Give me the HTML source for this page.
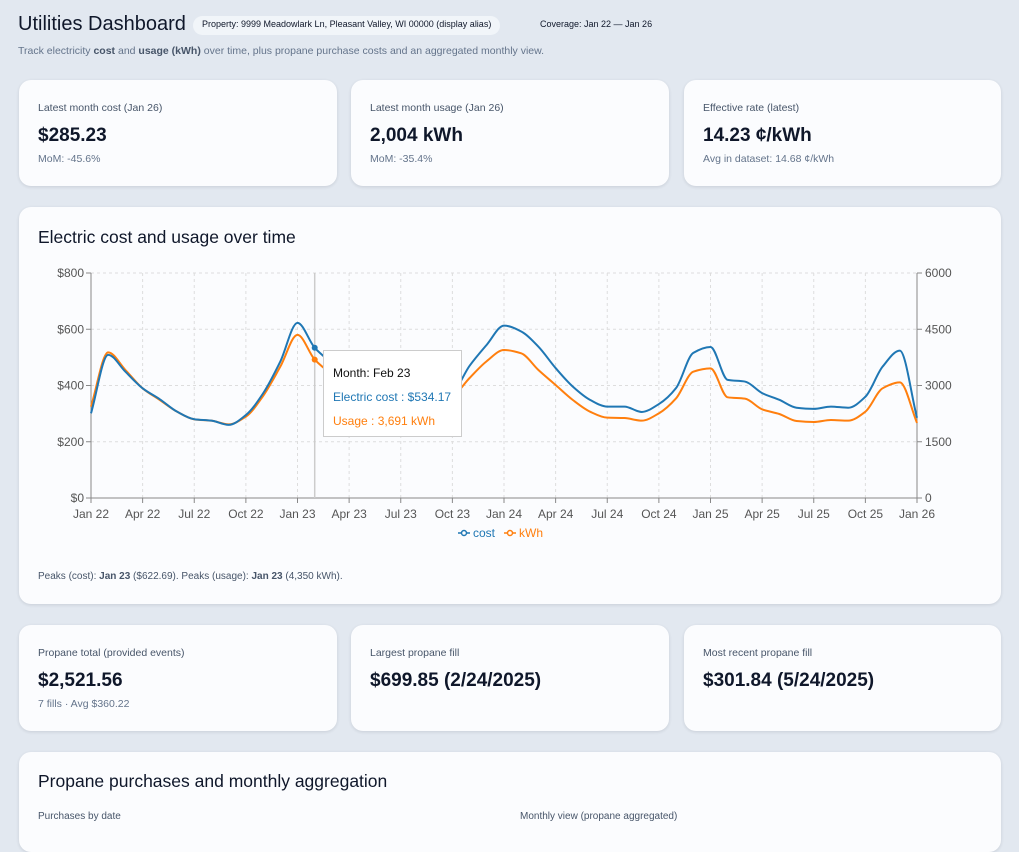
<!DOCTYPE html>
<html><head><meta charset="utf-8">
<style>
*{box-sizing:border-box;margin:0;padding:0}
body{width:1019px;height:829px;overflow:hidden;background:#e2e8f0;font-family:"Liberation Sans",sans-serif;color:#0f172a;position:relative}
.abs{position:absolute}
.card{position:absolute;background:#fbfcfe;border-radius:12px;box-shadow:0 1px 3px rgba(15,23,42,.12)}
.lbl{position:absolute;left:19px;top:22px;font-size:10.5px;color:#475569}
.val{position:absolute;left:19px;top:45px;font-size:19px;font-weight:bold;color:#0f172a}
.sub{position:absolute;left:19px;top:73px;font-size:10.5px;color:#64748b}
.tick{font-size:12px;fill:#555}
</style></head><body>
<div class="abs" style="left:18px;top:13px;font-size:20px;">Utilities Dashboard</div>
<div class="abs" style="left:193px;top:16px;height:19px;padding:3px 9px;background:#f1f5f9;border-radius:10px;font-size:9px;white-space:nowrap">Property: 9999 Meadowlark Ln, Pleasant Valley, WI 00000 (display alias)</div>
<div class="abs" style="left:540px;top:19px;font-size:9px;white-space:nowrap">Coverage: Jan 22 — Jan 26</div>
<div class="abs" style="left:18px;top:45px;font-size:10.5px;color:#64748b;white-space:nowrap">Track electricity <b style="color:#475569">cost</b> and <b style="color:#475569">usage (kWh)</b> over time, plus propane purchase costs and an aggregated monthly view.</div>

<div class="card" style="left:19px;top:80px;width:318px;height:106px"><div class="lbl">Latest month cost (Jan 26)</div><div class="val">$285.23</div><div class="sub">MoM: -45.6%</div></div>
<div class="card" style="left:351px;top:80px;width:318px;height:106px"><div class="lbl">Latest month usage (Jan 26)</div><div class="val">2,004 kWh</div><div class="sub">MoM: -35.4%</div></div>
<div class="card" style="left:684px;top:80px;width:317px;height:106px"><div class="lbl">Effective rate (latest)</div><div class="val">14.23 ¢/kWh</div><div class="sub">Avg in dataset: 14.68 ¢/kWh</div></div>

<div class="card" style="left:19px;top:207px;width:982px;height:397px">
 <div class="abs" style="left:19px;top:20px;font-size:17.5px;">Electric cost and usage over time</div>
 <div class="abs" style="left:19px;top:364px;font-size:10px;color:#475569;white-space:nowrap">Peaks (cost): <b>Jan 23</b> ($622.69). Peaks (usage): <b>Jan 23</b> (4,350 kWh).</div>
</div>
<svg class="abs" id="chart" style="left:0;top:0" width="1019" height="620"></svg>
<div class="abs" style="left:323px;top:350px;width:139px;height:87px;background:#fff;border:1px solid #ccc;padding:10px 9px;font-size:12px;line-height:24px;white-space:nowrap">
<div style="color:#111">Month: Feb 23</div><div style="color:#1f77b4">Electric cost : $534.17</div><div style="color:#ff7f0e">Usage : 3,691 kWh</div></div>

<div class="card" style="left:19px;top:625px;width:318px;height:106px"><div class="lbl">Propane total (provided events)</div><div class="val">$2,521.56</div><div class="sub">7 fills · Avg $360.22</div></div>
<div class="card" style="left:351px;top:625px;width:318px;height:106px"><div class="lbl">Largest propane fill</div><div class="val">$699.85 (2/24/2025)</div></div>
<div class="card" style="left:684px;top:625px;width:317px;height:106px"><div class="lbl">Most recent propane fill</div><div class="val">$301.84 (5/24/2025)</div></div>

<div class="card" style="left:19px;top:752px;width:982px;height:100px">
 <div class="abs" style="left:19px;top:19px;font-size:17.5px;">Propane purchases and monthly aggregation</div>
 <div class="abs" style="left:19px;top:59px;font-size:10px;color:#475569">Purchases by date</div>
 <div class="abs" style="left:501px;top:59px;font-size:10px;color:#475569">Monthly view (propane aggregated)</div>
</div>

<script>
const months=['Jan 22','Feb 22','Mar 22','Apr 22','May 22','Jun 22','Jul 22','Aug 22','Sep 22','Oct 22','Nov 22','Dec 22','Jan 23','Feb 23','Mar 23','Apr 23','May 23','Jun 23','Jul 23','Aug 23','Sep 23','Oct 23','Nov 23','Dec 23','Jan 24','Feb 24','Mar 24','Apr 24','May 24','Jun 24','Jul 24','Aug 24','Sep 24','Oct 24','Nov 24','Dec 24','Jan 25','Feb 25','Mar 25','Apr 25','May 25','Jun 25','Jul 25','Aug 25','Sep 25','Oct 25','Nov 25','Dec 25','Jan 26'];
const cost=[301,509,449,390,351,307,280,275,260,295,372,485,622.69,534.17,480,430,390,360,345,340,355,375,470,545,613,592,538,462,396,349,325,325,306,334,391,516,537,420,414,373,349,321,317,325,321,360,467,524,285.23];
const usage=[2436,3885,3413,2925,2613,2302,2098,2062,1965,2169,2720,3502,4350,3691,3300,3000,2750,2550,2450,2400,2500,2700,3200,3650,3947,3858,3413,3013,2613,2302,2142,2133,2062,2258,2658,3369,3458,2685,2649,2365,2240,2053,2027,2080,2062,2302,2925,3085,2004];
const costTicks=[0,200,400,600,800];
const usageTicks=[0,1500,3000,4500,6000];
const xTickIdx=[0,3,6,9,12,15,18,21,24,27,30,33,36,39,42,45,48];
const hoverIdx=13;

const svg=document.getElementById('chart');
const NS='http://www.w3.org/2000/svg';
const X0=91,X1=917,Y0=498,Y1=273;
const x=i=>X0+(X1-X0)*i/(months.length-1);
const yC=v=>Y0-(Y0-Y1)*v/800;
const yU=v=>Y0-(Y0-Y1)*v/6000;
function mk(t,a){const e=document.createElementNS(NS,t);for(const k in a)e.setAttribute(k,a[k]);svg.appendChild(e);return e;}
// grid
costTicks.forEach(v=>{if(v>0){const g=mk('line',{x1:X0,x2:X1,y1:yC(v),y2:yC(v),stroke:'#ddd','stroke-dasharray':'3 3'});

}});
xTickIdx.forEach(i=>{if(i>0&&i<48){const g=mk('line',{x1:x(i),x2:x(i),y1:Y1,y2:Y0,stroke:'#ddd','stroke-dasharray':'3 3'});

}});
// axes
const ax=mk('path',{d:`M${X0},${Y1}V${Y0}H${X1}V${Y1}`,stroke:'#888',fill:'none'});


costTicks.forEach(v=>{mk('line',{x1:X0-5,x2:X0,y1:yC(v),y2:yC(v),stroke:'#888'});
const t=mk('text',{x:X0-7,y:yC(v)+4,'text-anchor':'end',class:'tick'});t.textContent='$'+v;

});
usageTicks.forEach(v=>{mk('line',{x1:X1,x2:X1+5,y1:yU(v),y2:yU(v),stroke:'#888'});
const t=mk('text',{x:X1+8,y:yU(v)+4,class:'tick'});t.textContent=v;

});
xTickIdx.forEach(i=>{mk('line',{x1:x(i),x2:x(i),y1:Y0,y2:Y0+5,stroke:'#888'});
const t=mk('text',{x:x(i),y:Y0+20,'text-anchor':'middle',class:'tick'});t.textContent=months[i];

});
// cursor
const cur=mk('line',{x1:x(hoverIdx),x2:x(hoverIdx),y1:Y1,y2:Y0,stroke:'#ccc','stroke-width':1.5});


// monotone curve
function mono(pts){const n=pts.length,d=[],m=[];for(let i=0;i<n-1;i++)d.push((pts[i+1][1]-pts[i][1])/(pts[i+1][0]-pts[i][0]));
m[0]=d[0];m[n-1]=d[n-2];for(let i=1;i<n-1;i++)m[i]=d[i-1]*d[i]<=0?0:2/(1/d[i-1]+1/d[i]);
let s=`M${pts[0][0]},${pts[0][1]}`;for(let i=0;i<n-1;i++){const h=(pts[i+1][0]-pts[i][0])/3;
s+=`C${pts[i][0]+h},${pts[i][1]+m[i]*h} ${pts[i+1][0]-h},${pts[i+1][1]-m[i+1]*h} ${pts[i+1][0]},${pts[i+1][1]}`;}return s;}
const lu=mk('path',{d:mono(usage.map((v,i)=>[x(i),yU(v)])),stroke:'#ff7f0e','stroke-width':2,fill:'none'});


const lc=mk('path',{d:mono(cost.map((v,i)=>[x(i),yC(v)])),stroke:'#1f77b4','stroke-width':2,fill:'none'});


const d1=mk('circle',{cx:x(hoverIdx),cy:yC(cost[hoverIdx]),r:3,fill:'#1f77b4'});


const d2=mk('circle',{cx:x(hoverIdx),cy:yU(usage[hoverIdx]),r:3,fill:'#ff7f0e'});


// legend
[['cost','#1f77b4',458],['kWh','#ff7f0e',504]].forEach(([n,c,lx])=>{
const g=document.createElementNS(NS,'g');svg.appendChild(g);


g.innerHTML=`<line x1="${lx}" x2="${lx+12}" y1="533" y2="533" stroke="${c}" stroke-width="1.5"/><circle cx="${lx+6}" cy="533" r="2.5" fill="#fff" stroke="${c}" stroke-width="1.5"/><text x="${lx+15}" y="537" font-size="12" fill="${c}">${n}</text>`;});
</script>
</body></html>
